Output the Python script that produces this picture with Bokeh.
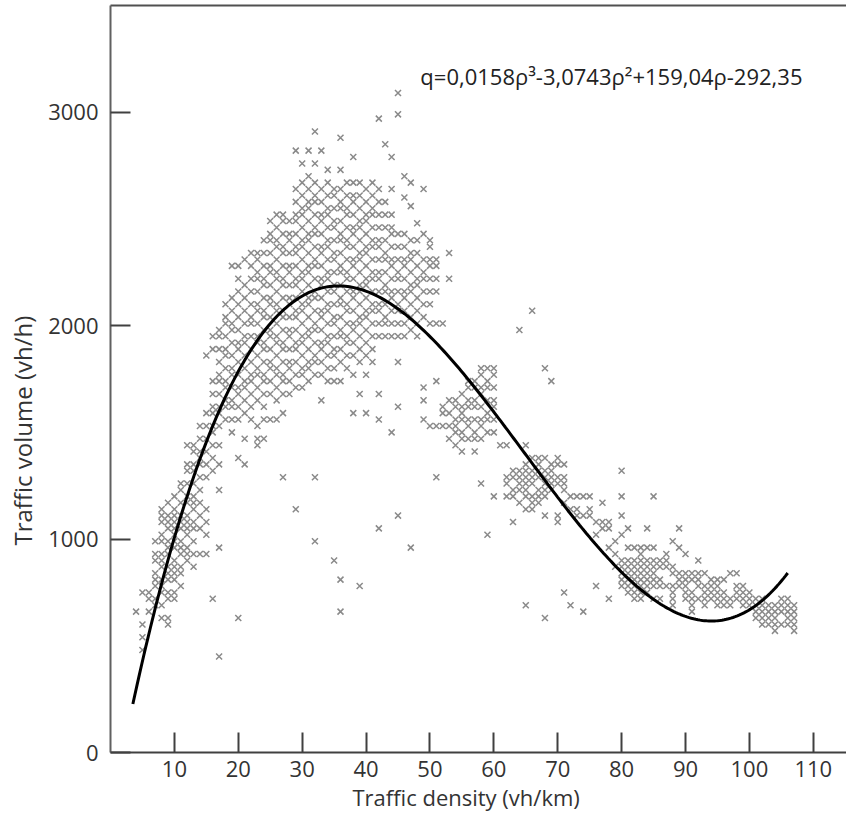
import numpy as np
from bokeh.plotting import figure
from bokeh.models import ColumnDataSource, FixedTicker, LinearAxis, Label, Title
from bokeh.embed import file_html
from bokeh.resources import INLINE

# ---- data: traffic density (vh/km) columns and volumes (vh/h) ----
densities = [4, 5, 6, 7, 8, 9, 10, 11, 12, 13, 14, 15, 16, 17, 18, 19, 20,
             21, 22, 23, 24, 25, 26, 27, 28, 29, 30, 31, 32, 33, 34, 35, 36,
             37, 38, 39, 40, 41, 42, 43, 44, 45, 46, 47, 48, 49, 50, 51, 52,
             53, 54, 55, 56, 57, 58, 59, 60, 61, 62, 63, 64, 65, 66, 67, 68,
             69, 70, 71, 72, 73, 74, 75, 76, 77, 78, 79, 80, 81, 82, 83, 84,
             85, 86, 87, 88, 89, 90, 91, 92, 93, 94, 95, 96, 97, 98, 99, 100,
             101, 102, 103, 104, 105, 106, 107]
volumes = [
    [660],
    [480, 540, 600, 750],
    [660, 720, 750],
    [690, 720, 780, 810, 840, 900, 930, 990],
    [630, 690, 750, 780, 810, 870, 900, 930, 990, 1020, 1080, 1110, 1140],
    [600, 630, 720, 750, 810, 840, 870, 930, 960, 990, 1050, 1080, 1110, 1170],
    [720, 750, 810, 840, 870, 900, 960, 990, 1020, 1050, 1080, 1110, 1140, 1200],
    [780, 840, 870, 930, 960, 990, 1050, 1080, 1110, 1170, 1230, 1260],
    [900, 930, 960, 1020, 1050, 1080, 1110, 1170, 1200, 1260, 1320, 1350, 1440],
    [870, 930, 990, 1050, 1080, 1140, 1170, 1200, 1260, 1320, 1350, 1410, 1440],
    [930, 1050, 1110, 1170, 1230, 1290, 1350, 1380, 1410, 1470, 1530],
    [930, 1020, 1080, 1140, 1290, 1350, 1410, 1470, 1530, 1590, 1860],
    [720, 1320, 1380, 1440, 1500, 1530, 1590, 1620, 1680, 1740, 1890, 1950],
    [450, 960, 1230, 1350, 1440, 1530, 1590, 1620, 1680, 1740, 1770, 1830, 1890, 1950, 1980],
    [1560, 1620, 1650, 1710, 1740, 1800, 1860, 1890, 1950, 2010, 2040, 2100],
    [1500, 1560, 1620, 1650, 1710, 1770, 1800, 1860, 1920, 1980, 2010, 2070, 2130, 2280],
    [630, 1380, 1560, 1620, 1680, 1710, 1770, 1830, 1890, 1920, 1980, 2040, 2100, 2160, 2220, 2280],
    [1350, 1470, 1590, 1650, 1710, 1740, 1800, 1860, 1920, 1950, 2010, 2070, 2130, 2190, 2310],
    [1560, 1620, 1680, 1740, 1770, 1830, 1890, 1950, 2010, 2040, 2100, 2160, 2220, 2280, 2340],
    [1440, 1470, 1530, 1650, 1710, 1770, 1800, 1860, 1920, 1950, 2010, 2070, 2100, 2160, 2220, 2250, 2310, 2340],
    [1470, 1560, 1620, 1680, 1740, 1770, 1830, 1890, 1920, 1980, 2040, 2070, 2130, 2190, 2220, 2280, 2340, 2400],
    [1560, 1680, 1740, 1800, 1830, 1890, 1950, 1980, 2040, 2100, 2130, 2190, 2250, 2280, 2340, 2400, 2430, 2490],
    [1560, 1650, 1710, 1770, 1800, 1860, 1920, 1950, 2010, 2070, 2100, 2160, 2220, 2250, 2310, 2370, 2400, 2460, 2520],
    [1290, 1590, 1680, 1740, 1770, 1830, 1890, 1920, 1980, 2040, 2070, 2130, 2190, 2220, 2280, 2340, 2370, 2430, 2490, 2520],
    [1680, 1740, 1800, 1830, 1890, 1950, 1980, 2040, 2100, 2130, 2190, 2250, 2280, 2340, 2400, 2430, 2490],
    [1140, 1710, 1770, 1830, 1890, 1920, 1980, 2040, 2070, 2130, 2190, 2220, 2280, 2340, 2370, 2430, 2490, 2520, 2580, 2640, 2820],
    [1710, 1770, 1800, 1860, 1920, 1950, 2010, 2070, 2100, 2160, 2220, 2250, 2310, 2370, 2400, 2460, 2520, 2550, 2610, 2670, 2760],
    [1740, 1800, 1830, 1890, 1950, 1980, 2040, 2100, 2130, 2190, 2250, 2280, 2340, 2400, 2430, 2490, 2550, 2580, 2640, 2700, 2820],
    [990, 1290, 1770, 1830, 1860, 1920, 1980, 2010, 2070, 2130, 2160, 2220, 2280, 2310, 2370, 2430, 2460, 2520, 2580, 2610, 2670, 2760, 2910],
    [1650, 1770, 1830, 1890, 1920, 1980, 2040, 2070, 2130, 2190, 2220, 2280, 2340, 2370, 2430, 2490, 2520, 2580, 2640, 2820],
    [1740, 1800, 1860, 1920, 1950, 2010, 2070, 2100, 2160, 2220, 2250, 2310, 2370, 2400, 2460, 2520, 2550, 2610, 2670, 2730],
    [900, 1740, 1800, 1860, 1890, 1950, 2010, 2040, 2100, 2160, 2190, 2250, 2310, 2340, 2400, 2460, 2490, 2550, 2610, 2640],
    [660, 810, 1740, 1830, 1890, 1950, 1980, 2040, 2100, 2130, 2190, 2250, 2280, 2340, 2400, 2430, 2490, 2550, 2580, 2640, 2730, 2880],
    [1800, 1860, 1920, 1950, 2010, 2070, 2100, 2160, 2220, 2250, 2310, 2370, 2400, 2460, 2520, 2550, 2610, 2670],
    [1590, 1770, 1860, 1920, 1980, 2010, 2070, 2130, 2160, 2220, 2280, 2310, 2370, 2430, 2460, 2520, 2580, 2610, 2670, 2790],
    [780, 1680, 1830, 1890, 1950, 2010, 2040, 2100, 2160, 2190, 2250, 2310, 2340, 2400, 2460, 2490, 2550, 2610, 2670],
    [1590, 1770, 1860, 1920, 1980, 2040, 2070, 2130, 2190, 2220, 2280, 2340, 2370, 2430, 2490, 2520, 2580, 2640],
    [1830, 1890, 1950, 2010, 2070, 2100, 2160, 2220, 2250, 2310, 2370, 2400, 2460, 2520, 2550, 2610, 2670],
    [1050, 1560, 1680, 1950, 2010, 2070, 2100, 2160, 2220, 2250, 2310, 2370, 2400, 2460, 2520, 2580, 2640, 2970],
    [1950, 2010, 2040, 2100, 2160, 2190, 2250, 2310, 2340, 2400, 2460, 2520, 2580, 2850],
    [1500, 1950, 2010, 2070, 2130, 2160, 2220, 2280, 2310, 2370, 2430, 2460, 2520, 2640, 2790],
    [1110, 1620, 1830, 1950, 2010, 2070, 2100, 2160, 2220, 2250, 2310, 2370, 2430, 2990, 3090],
    [1950, 2010, 2070, 2130, 2160, 2220, 2280, 2310, 2370, 2430, 2600, 2700],
    [960, 1980, 2040, 2100, 2160, 2190, 2250, 2310, 2340, 2400, 2560, 2670],
    [1950, 2010, 2070, 2130, 2190, 2220, 2280, 2340, 2400, 2480],
    [1560, 1650, 1710, 2040, 2100, 2160, 2220, 2250, 2310, 2430, 2640],
    [1530, 2010, 2100, 2160, 2220, 2280, 2310, 2370, 2400],
    [1290, 1530, 1740, 2010, 2160, 2220, 2280, 2310],
    [1530, 1590, 1620, 2010],
    [1470, 1530, 1590, 1650, 2220, 2340],
    [1440, 1500, 1530, 1560, 1620, 1650],
    [1410, 1470, 1500, 1560, 1590, 1620, 1680],
    [1470, 1530, 1560, 1620, 1650, 1710, 1740],
    [1410, 1470, 1500, 1560, 1620, 1650, 1710, 1740],
    [1260, 1470, 1530, 1560, 1620, 1680, 1710, 1770, 1800],
    [1020, 1500, 1560, 1590, 1650, 1710, 1740, 1800],
    [1200, 1500, 1560, 1620, 1650, 1710, 1770, 1800],
    [1440],
    [1200, 1260, 1290, 1440],
    [1080, 1200, 1230, 1290, 1320],
    [1170, 1230, 1260, 1290, 1320, 1980],
    [690, 1140, 1200, 1230, 1260, 1290, 1320, 1350, 1440],
    [1140, 1170, 1200, 1260, 1290, 1320, 1380, 2070],
    [1170, 1200, 1230, 1290, 1320, 1350, 1380],
    [630, 1110, 1200, 1230, 1260, 1290, 1320, 1380, 1800],
    [1230, 1260, 1290, 1320, 1350, 1740],
    [1080, 1110, 1260, 1290, 1350, 1380],
    [750, 1170, 1230, 1260, 1290, 1350],
    [690, 1140, 1200],
    [1110, 1140, 1200],
    [660, 1110, 1200],
    [1110, 1140, 1200],
    [780, 1020, 1080],
    [1050, 1080, 1170],
    [720, 960, 1050, 1080],
    [870, 930, 990],
    [780, 810, 840, 870, 900, 1020, 1110, 1200, 1320],
    [750, 780, 810, 840, 870, 900, 960, 1050],
    [720, 750, 780, 810, 840, 870, 900, 960],
    [720, 750, 780, 810, 840, 870, 900, 930, 960],
    [750, 780, 810, 840, 870, 900, 960, 1050],
    [720, 780, 810, 840, 870, 900, 960, 1200],
    [720, 780, 810, 870, 900],
    [780, 870, 900, 930],
    [690, 720, 750, 780, 840, 870, 990],
    [780, 810, 840, 960, 1050],
    [720, 750, 780, 810, 840, 930],
    [660, 690, 720, 750, 810, 840],
    [720, 780, 810, 840, 900],
    [690, 720, 750, 780, 840],
    [720, 750, 780, 810],
    [690, 720, 750, 780, 810],
    [690, 720, 750, 810],
    [690, 720, 840],
    [720, 750, 780, 840],
    [690, 720, 750, 780],
    [690, 720, 750],
    [630, 660, 690, 720],
    [600, 630, 660, 690, 720],
    [600, 630, 660, 690],
    [570, 600, 630, 660, 690],
    [600, 660, 690, 720],
    [600, 630, 660, 690, 720],
    [570, 600, 630, 660, 690],
]

# cubic fit shown on the chart: q = a*rho^3 + b*rho^2 + c*rho + d
fit_coeffs = [0.0158, -3.0743, 159.04, -292.35]
fit_start, fit_end = 3.5, 106.0
fit_label = "q=0,0158\u03c1\u00b3-3,0743\u03c1\u00b2+159,04\u03c1-292,35"

x_ticks = [10, 20, 30, 40, 50, 60, 70, 80, 90, 100, 110]
y_ticks = [0, 1000, 2000, 3000]
x_title = "Traffic density (vh/km)"
y_title = "Traffic volume (vh/h)"

# ---- build sources ----
flat_x, flat_y = [], []
for d, col in zip(densities, volumes):
    flat_x.extend([d] * len(col))
    flat_y.extend(col)
pts = ColumnDataSource(dict(x=flat_x, y=flat_y))

rho = np.linspace(fit_start, fit_end, 300)
q = np.polyval(fit_coeffs, rho)
curve = ColumnDataSource(dict(x=rho, y=q))

FONT = "Open Sans"
TXT = "#333333"

p = figure(width=846, height=820, x_range=(0, 115.2), y_range=(0, 3500),
           output_backend="svg", toolbar_location=None,
           min_border_left=110, min_border_right=0, min_border_top=5,
           min_border_bottom=68, background_fill_color="white",
           border_fill_color="white")
p.outline_line_color = None
p.grid.visible = False

p.scatter("x", "y", source=pts, marker="x", size=8.5, line_color="#8a8a8a",
          line_width=1.5)
p.line("x", "y", source=curve, line_color="black", line_width=3)

for ax in (p.xaxis[0], p.yaxis[0]):
    ax.major_tick_in = 20
    ax.major_tick_out = 0
    ax.minor_tick_in = 0
    ax.minor_tick_out = 0
    ax.major_tick_line_width = 2
    ax.major_tick_line_color = "#404040"
    ax.axis_line_width = 2
    ax.major_label_text_font = FONT
    ax.major_label_text_font_size = "22px"
    ax.major_label_text_color = TXT

p.xaxis[0].ticker = FixedTicker(ticks=x_ticks)
p.yaxis[0].ticker = FixedTicker(ticks=y_ticks)
p.xaxis[0].axis_line_color = "#404040"
p.yaxis[0].axis_line_color = "#606060"
p.xaxis[0].major_label_standoff = 8
p.yaxis[0].major_label_standoff = 12

top = LinearAxis(ticker=FixedTicker(ticks=[]), major_tick_in=0, major_tick_out=0,
                 minor_tick_in=0, minor_tick_out=0, major_label_standoff=0,
                 major_label_text_font_size="0px", axis_line_width=2,
                 axis_line_color="#505050")
p.add_layout(top, "above")

# axis titles as side-panel titles (offset along the frame edge, in pixels)
p.add_layout(Title(text=x_title, align="left", offset=242, standoff=0,
                   text_font=FONT, text_font_size="22px",
                   text_font_style="normal", text_color=TXT), "below")
p.add_layout(Title(text=y_title, align="left", vertical_align="top",
                   offset=207, standoff=10,
                   text_font=FONT, text_font_size="24px",
                   text_font_style="normal", text_color=TXT), "left")

p.add_layout(Label(x=48.5, y=3170, text=fit_label, text_font=FONT,
                   text_font_size="22px", text_color="#222222",
                   text_baseline="alphabetic"))

open("out.html", "w").write(file_html(p, INLINE))
